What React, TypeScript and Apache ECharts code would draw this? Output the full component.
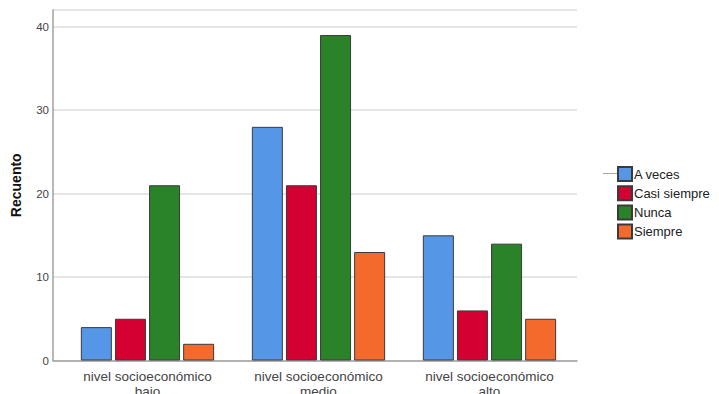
import React, { useEffect, useRef } from "react";
import * as echarts from "echarts";

const categories = ["nivel socioeconómico\nbajo", "nivel socioeconómico\nmedio", "nivel socioeconómico\nalto"];
const seriesNames = ["A veces", "Casi siempre", "Nunca", "Siempre"];
const aVeces = [4, 28, 15];
const casiSiempre = [5, 21, 6];
const nunca = [21, 39, 14];
const siempre = [2, 13, 5];
const colors = ["#5696E6", "#D40032", "#2A8229", "#F46A2C"];
const yMin = 0;
const yMax = 42;
const yInterval = 10;

const FONT = "Liberation Sans, Arial, sans-serif";

export default function App() {
  const ref = useRef<HTMLDivElement>(null);
  useEffect(() => {
    if (!ref.current) return;
    const chart = echarts.init(ref.current, undefined, { renderer: "svg" });
    const values = [aVeces, casiSiempre, nunca, siempre];
    chart.setOption({
      animation: false,
      backgroundColor: "#ffffff",
      textStyle: { fontFamily: FONT },
      grid: [
        { left: 62, width: 513, top: 10, height: 350.5, outerBoundsMode: "none", containLabel: false },
        { left: 53, width: 524, top: 10, height: 350.5, outerBoundsMode: "none", containLabel: false },
      ],
      legend: {
        orient: "vertical",
        left: 617,
        top: 166,
        padding: 0,
        itemWidth: 14,
        itemHeight: 14,
        itemGap: 3.2,
        icon: "rect",
        data: seriesNames,
        textStyle: { fontFamily: FONT, fontSize: 13, lineHeight: 14, color: "#222", padding: [0, 0, 0, -3] },
      },
      xAxis: [
        {
          type: "category",
          gridIndex: 0,
          data: categories,
          axisLine: { show: false },
          axisTick: { show: false },
          axisLabel: { color: "#444", fontSize: 13.5, fontFamily: FONT, margin: 9, lineHeight: 14.5, interval: 0 },
        },
        {
          type: "category",
          gridIndex: 1,
          data: ["a"],
          axisLine: { show: true, lineStyle: { color: "#a0a0a0", width: 1.5 } },
          axisTick: { show: false },
          axisLabel: { show: false },
        },
      ],
      yAxis: [
        {
          type: "value",
          gridIndex: 0,
          min: yMin,
          max: yMax,
          interval: yInterval,
          show: false,
          splitLine: { show: false },
        },
        {
          type: "value",
          gridIndex: 1,
          min: yMin,
          max: yMax,
          interval: yInterval,
          name: "Recuento",
          nameLocation: "middle",
          nameGap: 30,
          nameTextStyle: { fontFamily: FONT, fontSize: 14, fontWeight: "bold", color: "#111" },
          axisLine: { show: true, lineStyle: { color: "#a0a0a0", width: 1.5 } },
          axisTick: { show: false },
          axisLabel: {
            color: "#444",
            fontSize: 11.5,
            fontFamily: FONT,
            margin: 4,
            formatter: (v: number) => (v % 10 === 0 ? String(v) : ""),
          },
          splitLine: { show: true, lineStyle: { color: "#dcdcdc", width: 1.5 } },
        },
      ],
      series: seriesNames.map((name, i) => ({
        name,
        type: "bar",
        xAxisIndex: 0,
        yAxisIndex: 0,
        data: values[i],
        barWidth: 31,
        barGap: "10%",
        itemStyle: { color: colors[i], borderColor: "#3a3a3a", borderWidth: 1 },
      })),
      graphic: [
        {
          type: "line",
          shape: { x1: 603, y1: 173.5, x2: 617, y2: 173.5 },
          style: { stroke: "#aaa", lineWidth: 1 },
        },
      ],
    });
    return () => chart.dispose();
  }, []);
  return <div ref={ref} style={{ width: 719, height: 394, position: "absolute", left: 0, top: 0 }} />;
}
